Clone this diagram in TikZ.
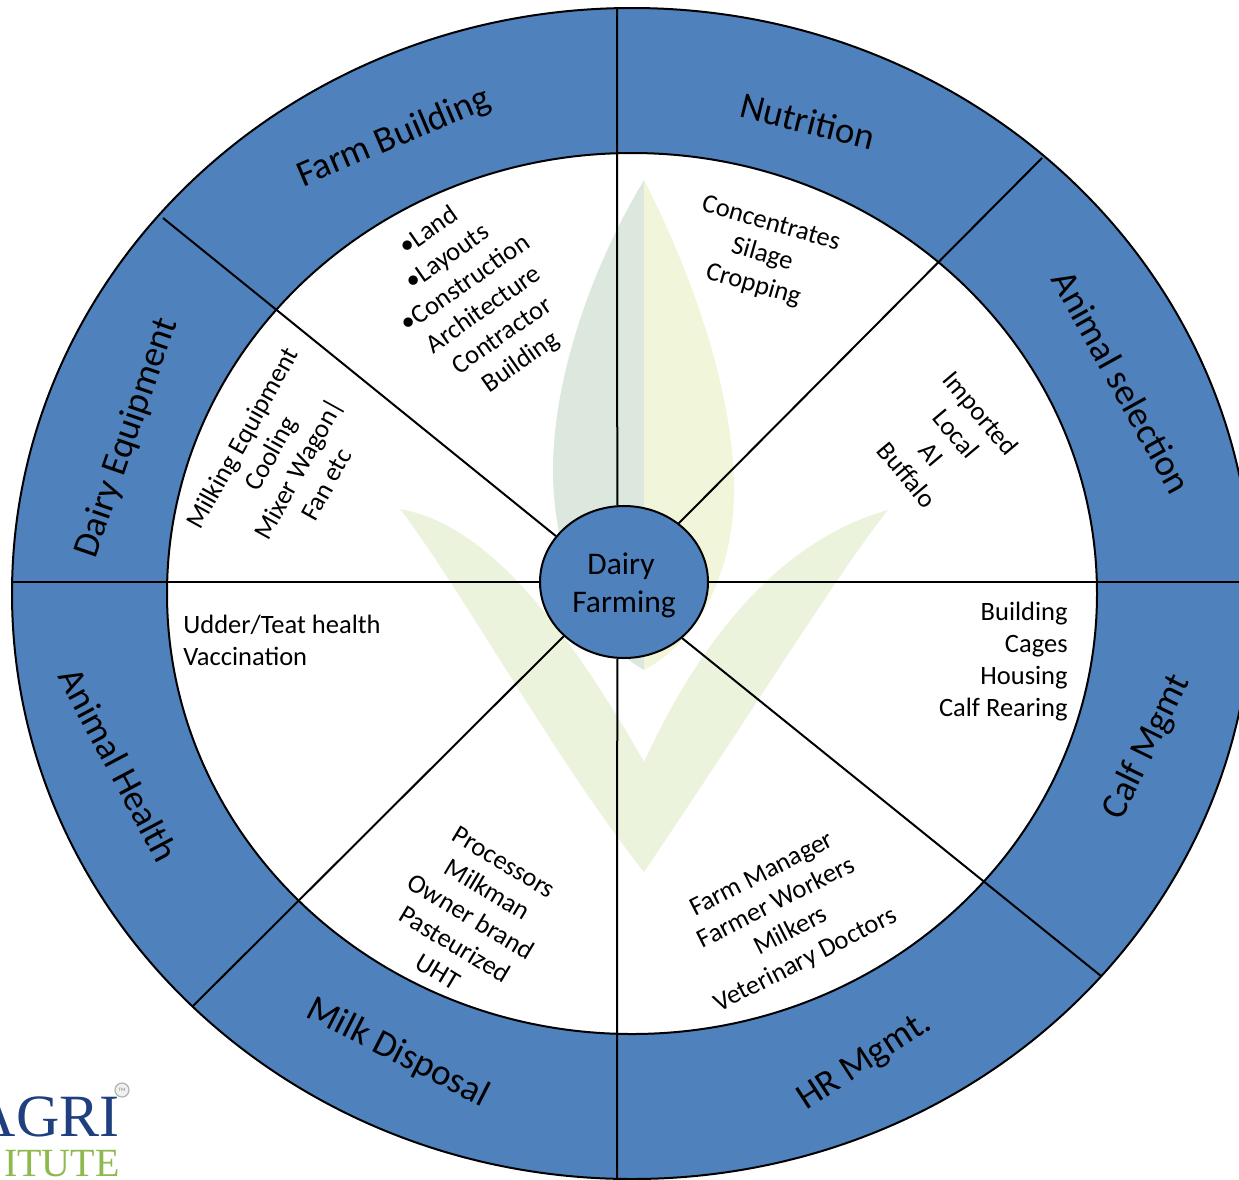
\documentclass[tikz,border=0pt]{standalone}
\usepackage{fontspec}
\setmainfont{Carlito}
\newfontfamily\logofont{Liberation Serif}
\usetikzlibrary{positioning,shapes.geometric}
\definecolor{ringblue}{HTML}{4F81BD}
\definecolor{leafblue}{HTML}{DCE8DE}
\definecolor{leafyellow}{HTML}{F1F5D9}
\definecolor{leafgreen}{HTML}{ECF3DD}
\definecolor{logoblue}{HTML}{1F3F7F}
\definecolor{logogreen}{HTML}{8DB94E}

\begin{document}
\begin{tikzpicture}[x=1pt,y=-1pt,
  thick,
  disc/.style={ellipse,draw=black,line width=2pt,inner sep=0pt},
  band/.style={font=\fontsize{37}{44}\selectfont,align=center,inner sep=0pt},
  item/.style={font=\fontsize{26.5}{32}\selectfont,align=center,inner sep=0pt},
  spoke/.style={draw=black,line width=2pt},
  leaf/.style={draw=none}]

  \clip (0,0) rectangle (1239,1179);

  \node[disc,fill=ringblue,minimum width=1240pt,minimum height=1171pt] (RIM) at (632,593.5) {};
  \node[disc,fill=white,minimum width=930pt,minimum height=881pt] (INNER) at (632,593.5) {};

  % watermark
  \path[leaf,fill=leafgreen] (400,509) .. controls (460,520) and (535,570) .. (644,762)
     .. controls (700,640) and (780,540) .. (888,510)
     .. controls (840,570) and (760,700) .. (644,872)
     .. controls (555,760) and (462,590) .. (400,509) -- cycle;
  \path[leaf,fill=leafblue] (644,180) .. controls (590,270) and (553,380) .. (553,470)
     .. controls (553,560) and (590,640) .. (644,670) -- cycle;
  \path[leaf,fill=leafyellow] (644,180) .. controls (690,270) and (734,390) .. (734,490)
     .. controls (734,570) and (700,640) .. (644,670) -- cycle;

  \node[disc,fill=ringblue,minimum width=168pt,minimum height=152pt,
        label={[yshift=-3.5pt,inner sep=0pt,font=\fontsize{31.5}{38}\selectfont,align=center]center:\hspace*{-6pt}Dairy\\Farming}] (HUB) at (624,582) {};

  \coordinate (rimN) at (617,8);
  \coordinate (rimNE) at (1042,158);
  \coordinate (rimE) at (1239,582);
  \coordinate (rimSE) at (1101,976);
  \coordinate (rimS) at (617,1179);
  \coordinate (rimSW) at (193,1006);
  \coordinate (rimW) at (12,582);
  \coordinate (rimNW) at (163,218);

  \path[spoke] (HUB.95) -- (rimN);
  \path[spoke] (HUB.47) -- (rimNE);
  \path[spoke] (HUB.east) -- (rimE);
  \path[spoke] (HUB.316) -- (rimSE);
  \path[spoke] (HUB.265) -- (rimS);
  \path[spoke] (HUB.222) -- (rimSW);
  \path[spoke] (HUB.west) -- (rimW);
  \path[spoke] (HUB.146) -- (rimNW);

  \node[band,rotate=23] (FARM) at (394,138) {Farm Building};
  \node[band,rotate=-14] (NUTRITION) at (808,121) {Nutrition};
  \node[band,rotate=-61] (SELECTION) at (1122,382) {Animal selection};
  \node[band,rotate=64] (CALF) at (1147,747) {Calf Mgmt};
  \node[band,rotate=33] (HR) at (865,1062) {HR Mgmt.};
  \node[band,rotate=-27] (MILK) at (398,1053) {Milk Disposal};
  \node[band,rotate=-62] (HEALTH) at (119,765) {Animal Health};
  \node[band,rotate=71] (EQUIPMENT) at (127,438) {Dairy Equipment};

  \node[item,rotate=35] (FARMLIST) at (475,297)
     {•Land\\•Layouts\\•Construction\\Architecture\\Contractor\\Building};
  \node[item,rotate=-16] (NUTRITIONLIST) at (762,255) {Concentrates\\Silage\\Cropping};
  \node[item,rotate=-50] (SELECTIONLIST) at (944,444) {Imported\\Local\\AI\\Buffalo};
  \node[item,align=right,anchor=east] (CALFLIST) at (1068,662) {Building\\Cages\\Housing\\Calf Rearing};
  \node[item,rotate=27] (HRLIST) at (784,918) {Farm Manager\\Farmer Workers\\Milkers\\Veterinary Doctors};
  \node[item,rotate=-31] (MILKLIST) at (471,917) {Processors\\Milkman\\Owner brand\\Pasteurized\\UHT};
  \node[item,align=left,anchor=west] (HEALTHLIST) at (183,640) {Udder/Teat health\\Vaccination};
  \node[item,rotate=61] (EQUIPMENTLIST) at (284,461) {Milking Equipment\\Cooling\\Mixer Wagon|\\Fan etc};

  % logo
  \node[anchor=base east,inner sep=0pt,text=logoblue,font=\logofont\fontsize{60}{60}\selectfont] (LOGOTOP) at (120,1136) {AGRI};
  \node[anchor=base east,inner sep=0pt,text=logogreen,font=\logofont\fontsize{40}{40}\selectfont] (LOGOBOTTOM) at (120,1176) {ITUTE};
  \node[circle,draw=black!30,fill=black!6,line width=1.2pt,minimum size=14pt,inner sep=0pt,
        text=black!50,font=\fontsize{5}{5}\selectfont] (LOGOMARK) at (122,1090) {TM};

\end{tikzpicture}
\end{document}
